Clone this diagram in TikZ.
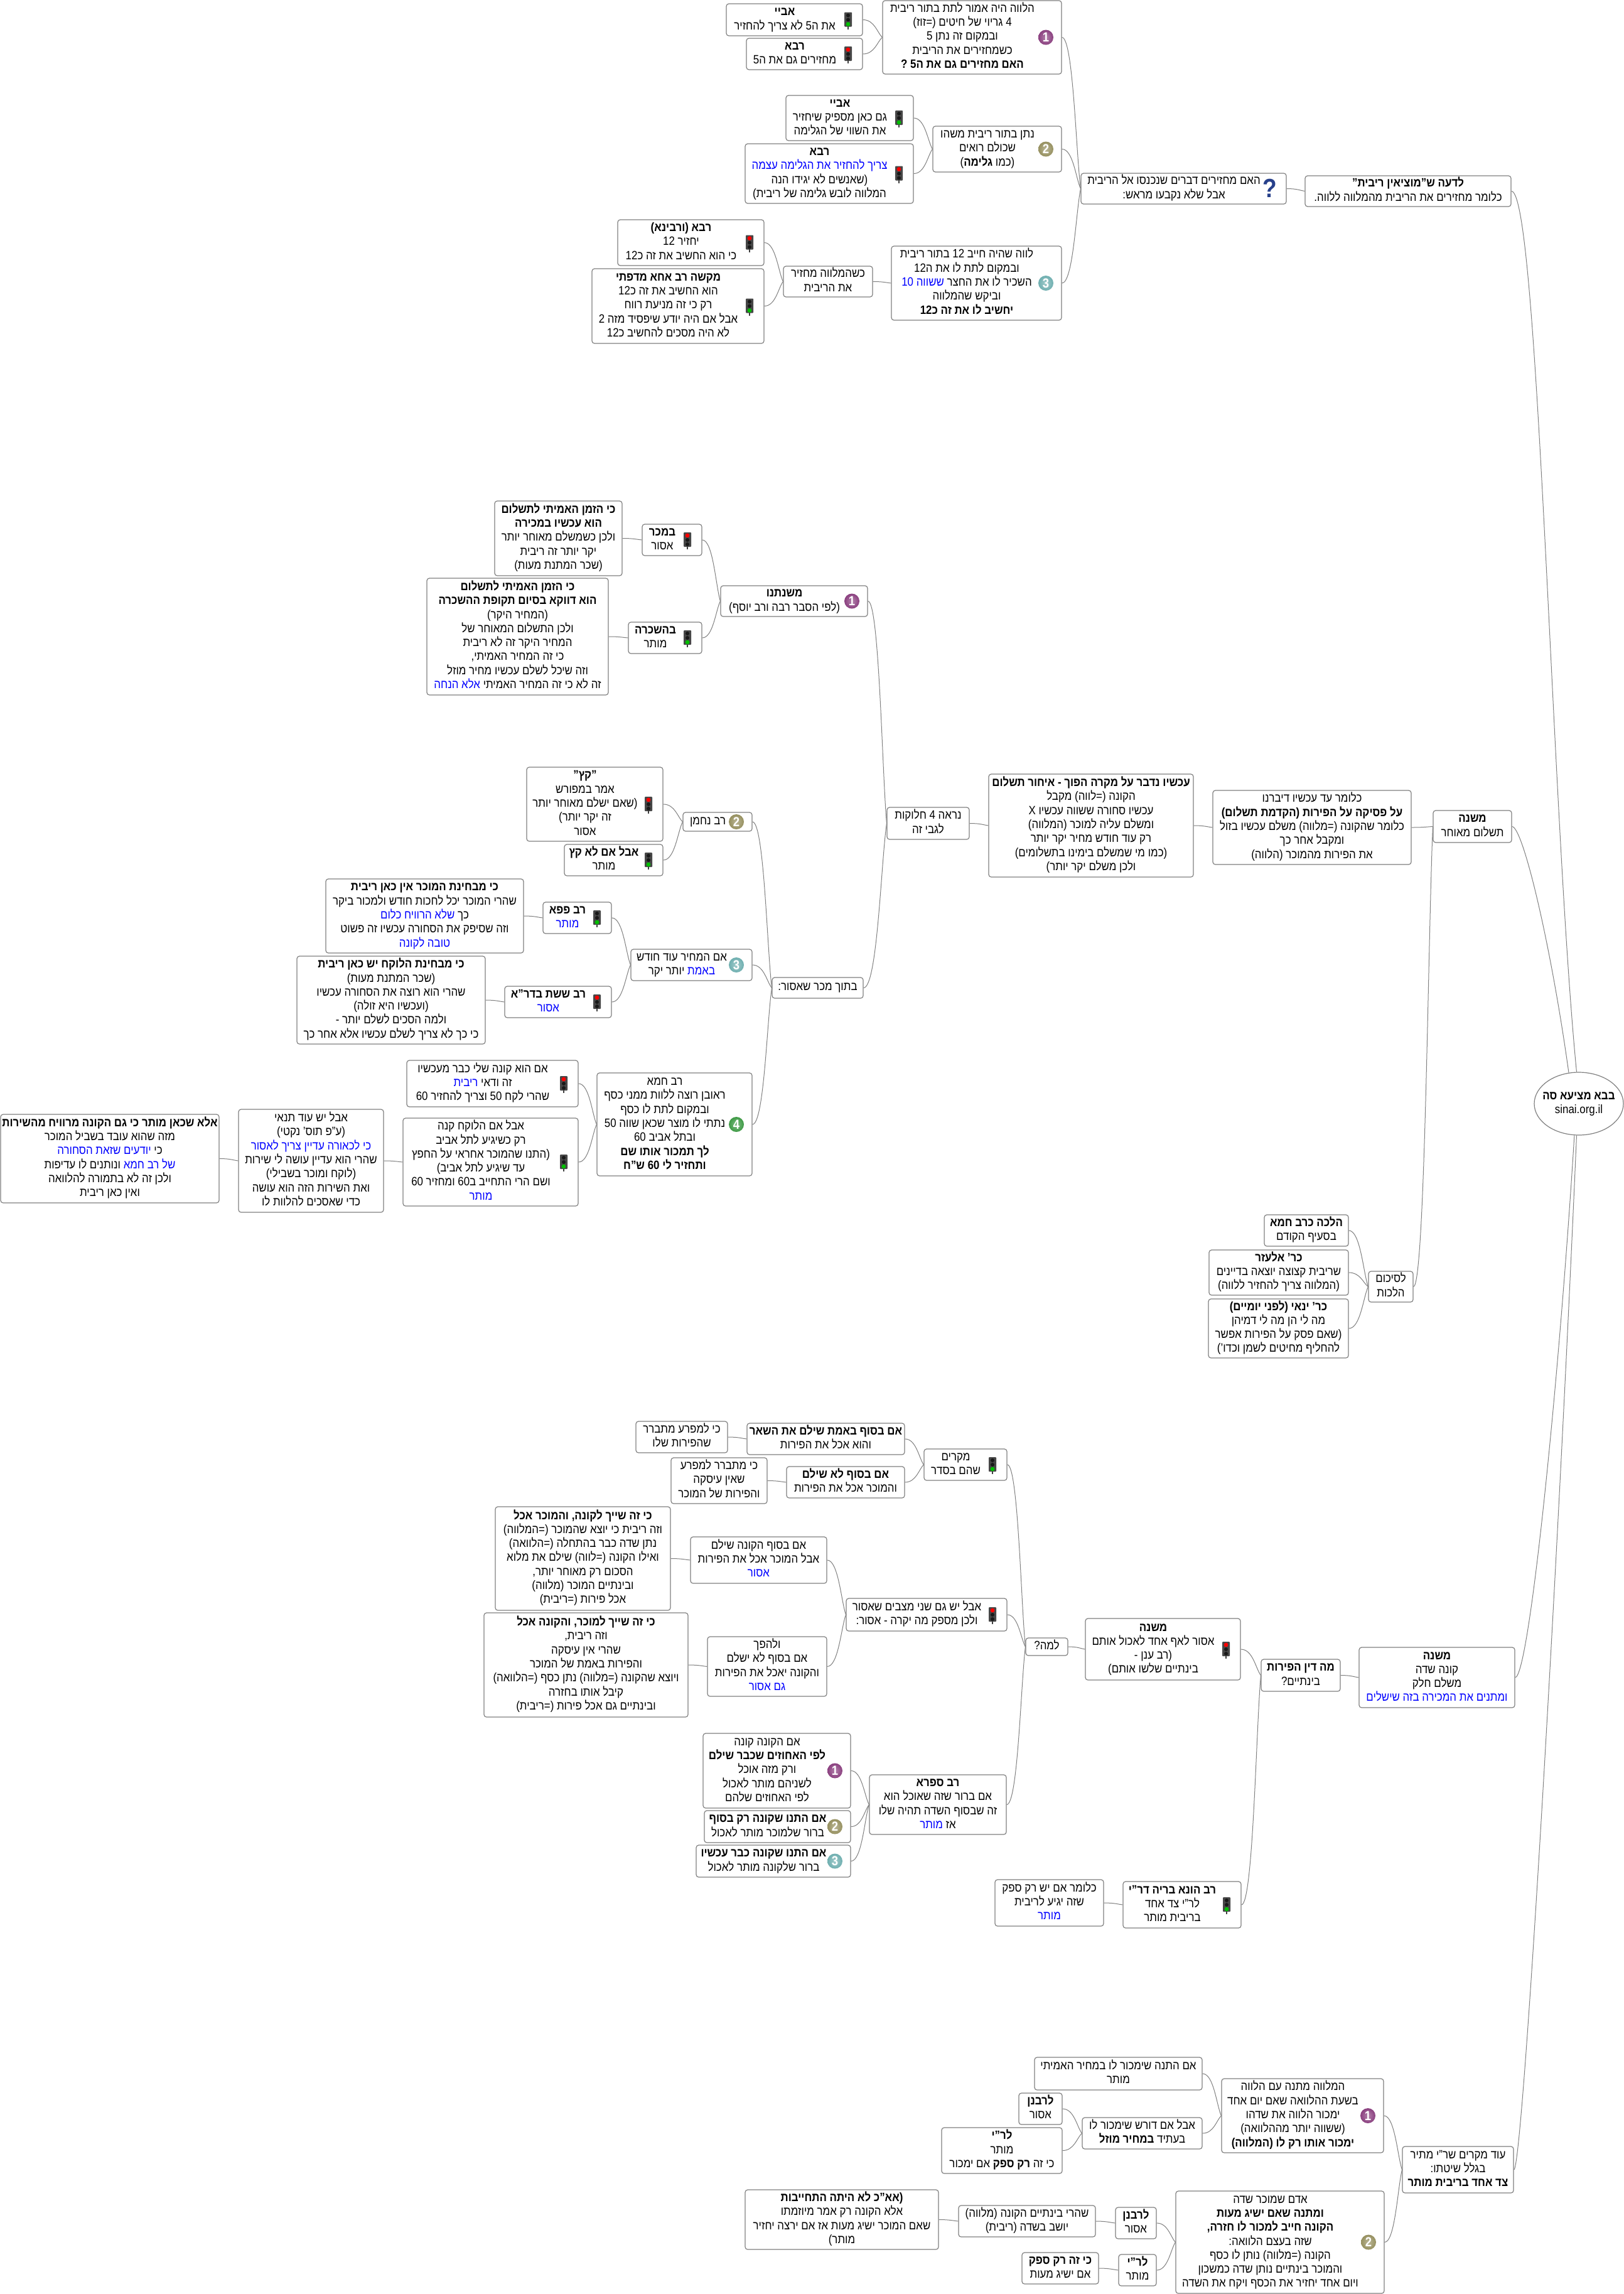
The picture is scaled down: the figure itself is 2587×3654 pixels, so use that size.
\documentclass[tikz,border=0pt]{standalone}
\usepackage{fontspec}
\usetikzlibrary{calc,shapes.geometric}
\setmainfont[Script=Hebrew,FakeStretch=0.88]{Liberation Sans}
\TeXXeTstate=1
\definecolor{edgegray}{HTML}{808080}
\definecolor{qblue}{HTML}{27408B}
\newcommand\Rt[1]{\beginR #1\endR}
\newcommand\Rb[1]{\beginR\textbf{#1}\endR}
\newcommand\Bu[1]{\textcolor{blue}{\beginR #1\endR}}
\newcommand\tb[1]{\begin{tabular}{@{}c@{}}#1\end{tabular}}
\tikzset{
  mbox/.style={draw=edgegray,line width=1.2pt,rounded corners=4pt,fill=white,inner sep=0pt,font=\fontsize{19.2}{22.3}\selectfont,text=black},
  link/.style={draw=edgegray,line width=1pt}
}
\newcommand\bx[6]{\node[mbox,minimum width={(#4-#2)*1pt},minimum height={(#5-#3)*1pt}] (#1) at ({(#2+#4)/2},{(#3+#5)/2}) {\makebox[0pt]{\tb{#6}}};}
\newcommand\ibx[6]{\node[mbox,minimum width={(#4-#2)*1pt},minimum height={(#5-#3)*1pt}] (#1) at ({(#2+#4)/2},{(#3+#5)/2}) {\makebox[0pt]{\tb{#6}\hspace{31pt}}};}
\newcommand\bxr[6]{\ibx{#1}{#2}{#3}{#4}{#5}{#6}\redlight{#4}{#3}{#5}}
\newcommand\bxg[6]{\ibx{#1}{#2}{#3}{#4}{#5}{#6}\greenlight{#4}{#3}{#5}}
\newcommand\redlight[3]{\begin{scope}[shift={({#1-23},{(#2+#3)/2})}]
  \fill[black!75] (-1,9) rectangle (1,15);
  \fill[black!72,rounded corners=1pt] (-6,-12) rectangle (6,11);
  \foreach \yy in {0,7} {\fill[black!90] (0,\yy) circle (3pt);}
  \fill[red] (0,-7) circle (3.4pt);
\end{scope}}
\newcommand\greenlight[3]{\begin{scope}[shift={({#1-23},{(#2+#3)/2})}]
  \fill[black!75] (-1,9) rectangle (1,15);
  \fill[black!72,rounded corners=1pt] (-6,-12) rectangle (6,11);
  \foreach \yy in {-7,0} {\fill[black!90] (0,\yy) circle (3pt);}
  \fill[green!75!black] (0,7) circle (3.4pt);
\end{scope}}
\definecolor{bad1}{HTML}{8A3F7F}
\definecolor{bad2}{HTML}{96905F}
\definecolor{bad3}{HTML}{6FAFB0}
\definecolor{bad4}{HTML}{3E9A45}
\newcommand\bxn[7]{\ibx{#1}{#2}{#3}{#4}{#5}{#6}
  \shade[inner color=bad#7!65!white,outer color=bad#7] ({#4-25},{(#3+#5)/2}) circle (12pt);
  \node[text=white,font=\bfseries\fontsize{21}{21}\selectfont,inner sep=0pt] (#1-ic) at ({#4-25},{(#3+#5)/2}) {#7};}
\newcommand\lnk[2]{\draw[link] let \p1=(#1.east),\p2=(#2.west),\n1={\x2-\x1},\n2={\y2-\y1} in (\p1) .. controls ($(\p1)+(0.6*\n1,0)$) and ($(\p1)+(0.75*\n1,0.75*\n2)$) .. (\p2);}
\begin{document}
\begin{tikzpicture}[x=1pt,y=-1pt]
\useasboundingbox (0,0) rectangle (2587,3654);
\fill[white] (0,0) rectangle (2587,3654);

% ---- top branch
\bxg{aa}{1157}{6}{1374}{57}{\Rb{אביי}\\ \Rt{את ה5 לא צריך להחזיר}}
\bxr{ab}{1189}{61}{1374}{111}{\Rb{רבא}\\ \Rt{מחזירים גם את ה5}}
\bxn{na}{1406}{1}{1691}{118}{\Rt{הלווה היה אמור לתת בתור ריבית}\\ \Rt{4 גריוי של חיטים  (=זוז)}\\ \Rt{ובמקום זה נתן 5}\\ \Rt{כשמחזירים את הריבית}\\ \Rb{האם מחזירים גם את ה5 ?}}{1}
\bxg{ba}{1252}{152}{1455}{224}{\Rb{אביי}\\ \Rt{גם כאן מספיק שיחזיר}\\ \Rt{את השווי של הגלימה}}
\bxn{nb}{1486}{201}{1691}{274}{\Rt{נתן בתור ריבית משהו}\\ \Rt{שכולם רואים}\\ \Rt{(כמו \textbf{גלימה})}}{2}
\bxr{bb}{1187}{229}{1455}{324}{\Rb{רבא}\\ \Bu{צריך להחזיר את הגלימה עצמה}\\ \Rt{(שאנשים לא יגידו הנה}\\ \Rt{המלווה לובש גלימה של ריבית)}}
\bxr{ca}{984}{350}{1217}{423}{\Rb{רבא (ורבינא)}\\ \Rt{יחזיר 12}\\ \Rt{כי הוא החשיב את זה כ12}}
\bxg{cb}{943}{428}{1217}{547}{\Rb{מקשה רב אחא מדפתי}\\ \Rt{הוא החשיב את זה כ12}\\ \Rt{רק כי זה מניעת רווח}\\ \Rt{אבל אם היה יודע שיפסיד מזה 2}\\ \Rt{לא היה מסכים להחשיב כ12}}
\bx{cc}{1248}{424}{1390}{473}{\Rt{כשהמלווה מחזיר}\\ \Rt{את הריבית}}
\bxn{nc}{1420}{392}{1691}{510}{\Rt{לווה שהיה חייב 12 בתור ריבית}\\ \Rt{ובמקום לתת לו את ה12}\\ \Bu{ששווה 10} \Rt{השכיר לו את החצר}\\ \Rt{וביקש שהמלווה}\\ \Rb{יחשיב לו את זה כ12}}{3}
\ibx{q}{1722}{276}{2049}{325}{\Rt{האם מחזירים דברים שנכנסו אל הריבית}\\ \Rt{אבל שלא נקבעו מראש:}}
\node[text=qblue,font=\bfseries\fontsize{42}{42}\selectfont,inner sep=0pt] (q-ic) at (2023,300) {?};
\bx{top}{2079}{280}{2407}{329}{\Rb{לדעה ש"מוציאין ריבית"}\\ \Rt{כלומר מחזירים את הריבית מהמלווה ללווה.}}

% ---- second branch
\bx{ha}{788}{798}{991}{917}{\Rb{כי הזמן האמיתי לתשלום}\\ \Rb{הוא עכשיו במכירה}\\ \Rt{ולכן כשמשלם מאוחר יותר}\\ \Rt{יקר יותר זה ריבית}\\ \Rt{(שכר המתנת מעות)}}
\bxr{hb}{1023}{835}{1118}{885}{\Rb{במכר}\\ \Rt{אסור}}
\bx{hc}{680}{921}{969}{1107}{\Rb{כי הזמן האמיתי לתשלום}\\ \Rb{הוא דווקא בסיום תקופת ההשכרה}\\ \Rt{(המחיר היקר)}\\ \Rt{ולכן התשלום המאוחר של}\\ \Rt{המחיר היקר זה לא ריבית}\\ \Rt{כי זה המחיר האמיתי,}\\ \Rt{וזה שיכל לשלם עכשיו מחיר מוזל}\\ \Bu{אלא הנחה} \Rt{זה לא כי זה המחיר האמיתי}}
\bxg{hd}{1001}{991}{1118}{1041}{\Rb{בהשכרה}\\ \Rt{מותר}}
\bxn{he}{1148}{933}{1382}{982}{\Rb{משנתנו}\\ \Rt{(לפי הסבר רבה ורב יוסף)}}{1}
\bx{nire}{1413}{1286}{1544}{1337}{\Rt{נראה 4 חלוקות}\\ \Rt{לגבי זה}}
\bx{achshav}{1575}{1233}{1901}{1397}{\Rb{עכשיו נדבר על מקרה הפוך - איחור תשלום}\\ \Rt{הקונה (=לווה) מקבל}\\ \Rt{עכשיו סחורה ששווה עכשיו X}\\ \Rt{ומשלם עליה למוכר (המלווה)}\\ \Rt{רק עוד חודש מחיר יקר יותר}\\ \Rt{(כמו מי שמשלם בימינו בתשלומים)}\\ \Rt{ולכן משלם יקר יותר)}}
\bx{klomar}{1932}{1259}{2248}{1377}{\Rt{כלומר עד עכשיו דיברנו}\\ \Rb{על פסיקה על הפירות (הקדמת תשלום)}\\ \Rt{כלומר שהקונה (=מלווה) משלם עכשיו בזול}\\ \Rt{ומקבל אחר כך}\\ \Rt{את הפירות מהמוכר (הלווה)}}
\bx{misha}{2283}{1291}{2408}{1342}{\Rb{משנה}\\ \Rt{תשלום מאוחר}}
\node[mbox,ellipse,rounded corners=0pt,minimum width=142pt,minimum height=100pt] (root) at (2515,1758) {\makebox[0pt]{\tb{\Rb{בבא מציעא סה}\\ sinai.org.il}}};
\bx{hal}{2014}{1935}{2148}{1985}{\Rb{הלכה כרב חמא}\\ \Rt{בסעיף הקודם}}
\bx{elazar}{1926}{1991}{2148}{2063}{\Rb{כר' אלעזר}\\ \Rt{שריבית קצוצה יוצאה בדיינים}\\ \Rt{(המלווה צריך להחזיר ללווה)}}
\bx{yanai}{1925}{2069}{2148}{2163}{\Rb{כר' ינאי (לפני יומיים)}\\ \Rt{מה לי הן מה לי דמיהן}\\ \Rt{(שאם פסק על הפירות אפשר}\\ \Rt{להחליף מחיטים לשמן וכדו')}}
\bx{sikum}{2180}{2025}{2251}{2074}{\Rt{לסיכום}\\ \Rt{הלכות}}

\bxr{katz}{839}{1222}{1056}{1340}{\Rb{"קץ"}\\ \Rt{אמר במפורש}\\ \Rt{(שאם ישלם מאוחר יותר}\\ \Rt{זה יקר יותר)}\\ \Rt{אסור}}
\bxg{avallo}{899}{1345}{1056}{1395}{\Rb{אבל אם לא קץ}\\ \Rt{מותר}}
\bxn{nachman}{1088}{1294}{1198}{1324}{\Rt{רב נחמן}}{2}
\bx{kimoch}{519}{1400}{834}{1518}{\Rb{כי מבחינת המוכר אין כאן ריבית}\\ \Rt{שהרי המוכר יכל לחכות חודש ולמכור ביקר}\\ \Bu{שלא הרוויח כלום} \Rt{כך}\\ \Rt{וזה שסיפק את הסחורה עכשיו זה פשוט}\\ \Bu{טובה לקונה}}
\bxg{papa}{865}{1437}{974}{1487}{\Rb{רב פפא}\\ \Bu{מותר}}
\bx{kilok}{473}{1523}{773}{1663}{\Rb{כי מבחינת הלוקח יש כאן ריבית}\\ \Rt{(שכר המתנת מעות)}\\ \Rt{שהרי הוא רוצה את הסחורה עכשיו}\\ \Rt{(ועכשיו היא זולה)}\\ \Rt{ולמה הסכים לשלם יותר -}\\ \Rt{כי כך לא צריך לשלם עכשיו אלא אחר כך}}
\bxr{sheshet}{804}{1571}{974}{1621}{\Rb{רב ששת בדר"א}\\ \Bu{אסור}}
\bxn{immech}{1005}{1512}{1198}{1562}{\Rt{אם המחיר עוד חודש}\\ \Rt{יותר יקר} \Bu{באמת}}{3}
\bx{betoch}{1230}{1557}{1375}{1590}{\Rt{בתוך מכר שאסור:}}
\bxr{imkon}{648}{1689}{921}{1763}{\Rt{אם הוא קונה שלי כבר מעכשיו}\\ \Bu{ריבית} \Rt{זה ודאי}\\ \Rt{שהרי לקח 50 וצריך להחזיר 60}}
\bxg{avallok}{642}{1781}{921}{1921}{\Rt{אבל אם הלוקח קנה}\\ \Rt{רק כשיגיע לתל אביב}\\ \Rt{(התנו שהמוכר אחראי על החפץ}\\ \Rt{עד שיגיע לתל אביב)}\\ \Rt{ושם הרי התחייב ב60 ומחזיר 60}\\ \Bu{מותר}}
\bxn{chama}{951}{1709}{1198}{1873}{\Rt{רב חמא}\\ \Rt{ראובן רוצה ללוות ממני כסף}\\ \Rt{ובמקום לתת לו כסף}\\ \Rt{נתתי לו מוצר שכאן שווה 50}\\ \Rt{ובתל אביב 60}\\ \Rb{לך תמכור אותו שם}\\ \Rb{ותחזיר לי 60 ש"ח}}{4}
\bx{avalyesh}{380}{1767}{611}{1931}{\Rt{אבל יש עוד תנאי}\\ \Rt{(ע"פ תוס' נקטי)}\\ \Bu{כי לכאורה עדיין צריך לאסור}\\ \Rt{שהרי הוא עדיין עושה לי שירות}\\ \Rt{(לוקח ומוכר בשבילי)}\\ \Rt{ואת השירות הזה הוא עושה}\\ \Rt{כדי שאסכים להלוות לו}}
\bx{ela}{1}{1775}{349}{1916}{\Rb{אלא שכאן מותר כי גם הקונה מרוויח מהשירות}\\ \Rt{מזה שהוא עובד בשביל המוכר}\\ \Bu{יודעים שזאת הסחורה} \Rt{כי}\\ \Rt{ונותנים לו עדיפות} \Bu{של רב חמא}\\ \Rt{ולכן זה לא בתמורה להלוואה}\\ \Rt{ואין כאן ריבית}}

% ---- third branch
\bx{kilem}{1013}{2264}{1159}{2314}{\Rt{כי למפרע מתברר}\\ \Rt{שהפירות שלו}}
\bx{imbe}{1190}{2267}{1441}{2317}{\Rb{אם בסוף באמת שילם את השאר}\\ \Rt{והוא אכל את הפירות}}
\bx{kimit}{1069}{2322}{1222}{2395}{\Rt{כי מתברר למפרע}\\ \Rt{שאין עיסקה}\\ \Rt{והפירות של המוכר}}
\bx{imlo}{1253}{2336}{1441}{2386}{\Rb{אם בסוף לא שילם}\\ \Rt{והמוכר אכל את הפירות}}
\bxg{mikrim}{1472}{2308}{1604}{2358}{\Rt{מקרים}\\ \Rt{שהם בסדר}}
\bx{kikon}{789}{2400}{1068}{2565}{\Rb{כי זה שייך לקונה, והמוכר אכל}\\ \Rt{וזה ריבית כי יוצא שהמוכר (=המלווה)}\\ \Rt{נתן שדה כבר בהתחלה (=הלוואה)}\\ \Rt{ואילו הקונה (=לווה) שילם את מלוא}\\ \Rt{הסכום רק מאוחר יותר,}\\ \Rt{ובינתיים המוכר (מלווה)}\\ \Rt{אכל פירות (=ריבית)}}
\bx{imkon2}{1100}{2448}{1317}{2522}{\Rt{אם בסוף הקונה שילם}\\ \Rt{אבל המוכר אכל את הפירות}\\ \Bu{אסור}}
\bx{kimoc2}{771}{2569}{1096}{2735}{\Rb{כי זה שייך למוכר, והקונה אכל}\\ \Rt{וזה ריבית,}\\ \Rt{שהרי אין עיסקה}\\ \Rt{והפירות באמת של המוכר}\\ \Rt{ויוצא שהקונה (=מלווה)  נתן כסף (=הלוואה)}\\ \Rt{קיבל אותו בחזרה}\\ \Rt{ובינתיים גם אכל פירות (=ריבית)}}
\bx{ulehe}{1127}{2607}{1317}{2702}{\Rt{ולהפך}\\ \Rt{אם בסוף לא ישלם}\\ \Rt{והקונה יאכל את הפירות}\\ \Bu{גם אסור}}
\bxr{yeshgam}{1348}{2546}{1604}{2598}{\Rt{אבל יש גם שני מצבים שאסור}\\ \Rt{ולכן מספק מה יקרה - אסור:}}
\bx{lama}{1634}{2609}{1701}{2637}{\Rt{למה?}}
\bxn{safa}{1120}{2761}{1355}{2880}{\Rt{אם הקונה קונה}\\ \Rb{לפי האחוזים שכבר שילם}\\ \Rt{ורק מזה אוכל}\\ \Rt{לשניהם מותר לאכול}\\ \Rt{לפי האחוזים שלהם}}{1}
\bxn{safb}{1122}{2884}{1355}{2935}{\Rb{אם התנו שקונה רק בסוף}\\ \Rt{ברור שלמוכר מותר לאכול}}{2}
\bxn{safc}{1109}{2939}{1355}{2990}{\Rb{אם התנו שקונה כבר עכשיו}\\ \Rt{ברור שלקונה מותר לאכול}}{3}
\bx{safra}{1385}{2827}{1603}{2922}{\Rb{רב ספרא}\\ \Rt{אם ברור שזה שאוכל הוא}\\ \Rt{זה שבסוף השדה תהיה שלו}\\ \Bu{מותר} \Rt{אז}}
\bx{klom3}{1585}{2994}{1758}{3068}{\Rt{כלומר אם יש רק ספק}\\ \Rt{שזה יגיע לריבית}\\ \Bu{מותר}}
\bxg{huna}{1789}{2997}{1977}{3071}{\Rb{רב הונא בריה דר"י}\\ \Rt{לר"י צד אחד}\\ \Rt{בריבית מותר}}
\bxr{masur}{1729}{2578}{1976}{2676}{\Rb{משנה}\\ \Rt{אסור לאף אחד לאכול אותם}\\ \Rt{(רב ענן -}\\ \Rt{בינתיים שלשו אותם)}}
\bx{madin}{2009}{2643}{2135}{2694}{\Rb{מה דין הפירות}\\ \Rt{בינתיים?}}
\bx{mishb}{2165}{2624}{2413}{2720}{\Rb{משנה}\\ \Rt{קונה שדה}\\ \Rt{משלם חלק}\\ \Bu{ומתנים את המכירה בזה שישלים}}

% ---- bottom branch
\bxn{hamal}{1946}{3311}{2204}{3429}{\Rt{המלווה מתנה עם הלווה}\\ \Rt{בשעת ההלוואה שאם יום אחד}\\ \Rt{ימכור הלווה את שדהו}\\ \Rt{(ששווה יותר מההלוואה)}\\ \Rb{ימכור אותו רק לו (המלווה)}}{1}
\bx{imhit}{1648}{3277}{1915}{3329}{\Rt{אם התנה שימכור לו במחיר האמיתי}\\ \Rt{מותר}}
\bx{lera}{1623}{3334}{1692}{3384}{\Rb{לרבנן}\\ \Rt{אסור}}
\bx{leri}{1500}{3389}{1692}{3462}{\Rb{לר"י}\\ \Rt{מותר}\\ \Rt{כי זה \textbf{רק ספק}  אם ימכור}}
\bx{avald}{1724}{3373}{1915}{3423}{\Rt{אבל אם דורש שימכור לו}\\ \Rt{בעתיד \textbf{במחיר מוזל}}}
\bx{od}{2234}{3419}{2411}{3493}{\Rt{עוד מקרים שר"י מתיר}\\ \Rt{בגלל שיטתו:}\\ \Rb{צד אחד בריבית מותר}}
\bxn{adam}{1873}{3490}{2205}{3653}{\Rt{אדם שמוכר שדה}\\ \Rb{ומתנה שאם ישיג מעות}\\ \Rb{הקונה חייב למכור לו חזרה,}\\ \Rt{שזה בעצם הלוואה:}\\ \Rt{הקונה (=מלווה) נותן לו כסף}\\ \Rt{והמוכר בינתיים נותן שדה כמשכון}\\ \Rt{ויום אחד יחזיר את הכסף ויקח את השדה}}{2}
\bx{shehar}{1527}{3513}{1745}{3563}{\Rt{שהרי בינתיים הקונה (מלווה)}\\ \Rt{יושב בשדה (ריבית)}}
\bx{lerb}{1777}{3516}{1842}{3566}{\Rb{לרבנן}\\ \Rt{אסור}}
\bx{kirak}{1628}{3588}{1750}{3638}{\Rb{כי זה רק ספק}\\ \Rt{אם ישיג מעות}}
\bx{lerc}{1782}{3591}{1842}{3641}{\Rb{לר"י}\\ \Rt{מותר}}
\bx{eak}{1187}{3488}{1495}{3583}{\Rb{(אא"כ לא היתה התחייבות}\\ \Rt{אלא הקונה רק אמר מיוזמתו}\\ \Rt{שאם המוכר ישיג מעות אז אם ירצה יחזיר}\\ \Rt{מותר)}}

% ---- connectors
\foreach \chd/\prt in {aa/na,ab/na,ba/nb,bb/nb,ca/cc,cb/cc,cc/nc,na/q,nb/q,nc/q,q/top,
  ha/hb,hc/hd,hb/he,hd/he,he/nire,betoch/nire,nire/achshav,achshav/klomar,klomar/misha,sikum/misha,
  hal/sikum,elazar/sikum,yanai/sikum,katz/nachman,avallo/nachman,nachman/betoch,immech/betoch,chama/betoch,
  kimoch/papa,kilok/sheshet,papa/immech,sheshet/immech,imkon/chama,avallok/chama,avalyesh/avallok,ela/avalyesh,
  kilem/imbe,kimit/imlo,imbe/mikrim,imlo/mikrim,kikon/imkon2,kimoc2/ulehe,imkon2/yeshgam,ulehe/yeshgam,
  mikrim/lama,yeshgam/lama,safra/lama,safa/safra,safb/safra,safc/safra,klom3/huna,lama/masur,masur/madin,huna/madin,madin/mishb,
  imhit/hamal,avald/hamal,lera/avald,leri/avald,hamal/od,adam/od,shehar/lerb,eak/shehar,kirak/lerc,lerb/adam,lerc/adam}
  {\lnk{\chd}{\prt}}

\draw[link] (top.east) .. controls +(43,0) and +(-40,-408) .. (root.94);
\draw[link] (misha.east) .. controls +(17,0) and +(-29,-208) .. (root.108);
\draw[link] (mishb.east) .. controls +(22,0) and +(-25,400) .. (root.-98);
\draw[link] (od.east) .. controls +(14,0) and +(-30,692) .. (root.-94);
\end{tikzpicture}
\end{document}
